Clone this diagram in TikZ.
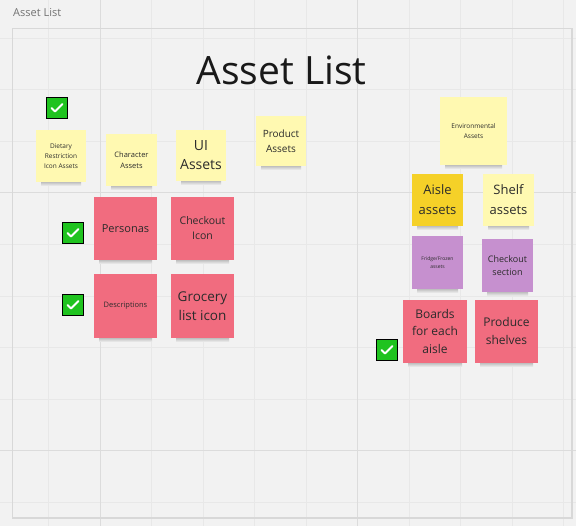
\documentclass[tikz,border=0pt]{standalone}
\usepackage{fontspec}
\setmainfont{Open Sans}
\definecolor{bg}{HTML}{F2F2F2}
\definecolor{gridminor}{HTML}{E8E8E8}
\definecolor{gridmajor}{HTML}{DCDCDC}
\definecolor{framec}{HTML}{D8D8D8}
\definecolor{stickyyellow}{HTML}{FFF9B1}
\definecolor{stickygold}{HTML}{F5D128}
\definecolor{stickypink}{HTML}{F16C7F}
\definecolor{stickyviolet}{HTML}{C690CF}
\definecolor{checkgreen}{HTML}{1FC31F}
\definecolor{notetext}{HTML}{2B2B2B}
\tikzset{
  notebox/.style={rectangle, inner sep=2pt, align=center, text=notetext},
  checkbox/.style={rectangle, draw=black, line width=1.3pt, fill=checkgreen, minimum width=21pt, minimum height=21pt, inner sep=0pt},
  checkmark/.style={white, line width=2pt, line cap=round, line join=round},
  gridline/.style={gridminor, line width=0.8pt},
  gridline major/.style={gridmajor, line width=1pt}
}
% name, x, y, w, h, colour, font, text
\newcommand\stickynote[8]{%
  \fill[top color=black!40, bottom color=bg] ({#2+5},{#3+#5-3}) rectangle ({#2+#4-5},{#3+#5+4});
  \node[notebox, fill=#6, minimum width=#4pt, minimum height=#5pt, font=#7] (#1) at ({#2+#4/2},{#3+#5/2}) {#8};
}
\newcommand\checkboxnode[3]{%
  \node[checkbox] (#1) at (#2,#3) {};
  \draw[checkmark] (#1.center) ++(-5.5,0) -- ++(3.5,3.5) -- ++(7.5,-7.5);
}
\begin{document}
\begin{tikzpicture}[x=1pt,y=-1pt]
\useasboundingbox (0,0) rectangle (576,526);
\fill[bg] (0,0) rectangle (576,526);
% grid
\foreach \gx in {48.6,151.4,203,254.5,306,409,460.4,512,563.4}
  \draw[gridline] (\gx,0) -- (\gx,526);
\foreach \gy in {38.2,89.8,141.4,244.6,296.2,347.8,399.4,502.6}
  \draw[gridline] (0,\gy) -- (576,\gy);
\foreach \gx in {100,357.4}
  \draw[gridline major] (\gx,0) -- (\gx,526);
\foreach \gy in {193,451}
  \draw[gridline major] (0,\gy) -- (576,\gy);
% frame
\draw[framec, line width=1.2pt] (12.5,28.5) rectangle (572,518);
\node[anchor=west, text=black!55, font=\fontsize{11}{13}\selectfont, inner sep=0pt] (framelabel) at (13,13) {Asset List};
% title
\node[text=black!90, font=\fontsize{39}{46}\selectfont, inner sep=0pt] (title) at (281.5,70) {Asset List};
% left group
\checkboxnode{chk1}{57}{108}
\stickynote{diet}{36}{130}{50}{52}{stickyyellow}{\fontsize{6.5}{10}\selectfont\color{black!65}}{Dietary\\Restriction\\Icon Assets}
\stickynote{character}{106}{134}{51}{52}{stickyyellow}{\fontsize{7.5}{11.5}\selectfont}{Character\\Assets}
\stickynote{ui}{176}{130}{50}{51}{stickyyellow}{\fontsize{14}{19}\selectfont}{UI\\Assets}
\stickynote{product}{256}{116}{50}{50}{stickyyellow}{\fontsize{10}{15}\selectfont}{Product\\Assets}
\checkboxnode{chk2}{73}{233}
\stickynote{personas}{94}{197}{63}{63}{stickypink}{\fontsize{11}{14}\selectfont}{Personas}
\stickynote{checkouticon}{171}{197}{63}{63}{stickypink}{\fontsize{10.5}{15}\selectfont}{Checkout\\Icon}
\checkboxnode{chk3}{73}{305}
\stickynote{descriptions}{94}{274}{63}{64}{stickypink}{\fontsize{7.5}{10}\selectfont}{Descriptions}
\stickynote{grocery}{171}{274}{63}{64}{stickypink}{\fontsize{13.5}{19}\selectfont}{Grocery\\list icon}
% right group
\stickynote{environmental}{440}{97}{67}{68}{stickyyellow}{\fontsize{6.5}{10.5}\selectfont\color{black!70}}{Environmental\\Assets}
\stickynote{aisle}{412}{174}{51}{52}{stickygold}{\fontsize{13}{20}\selectfont}{Aisle\\assets}
\stickynote{shelf}{483}{174}{51}{52}{stickyyellow}{\fontsize{13}{20}\selectfont}{Shelf\\assets}
\stickynote{fridge}{412}{236}{51}{53}{stickyviolet}{\fontsize{5}{8}\selectfont\color{black!65}}{Fridge/Frozen\\assets}
\stickynote{checkoutsection}{482}{239}{51}{53}{stickyviolet}{\fontsize{9}{13.5}\selectfont}{Checkout\\section}
\stickynote{boards}{403}{300}{64}{63}{stickypink}{\fontsize{12}{17.5}\selectfont}{Boards\\for each\\aisle}
\stickynote{produce}{475}{300}{63}{63}{stickypink}{\fontsize{12}{18}\selectfont}{Produce\\shelves}
\checkboxnode{chk4}{387}{350}
\end{tikzpicture}
\end{document}
